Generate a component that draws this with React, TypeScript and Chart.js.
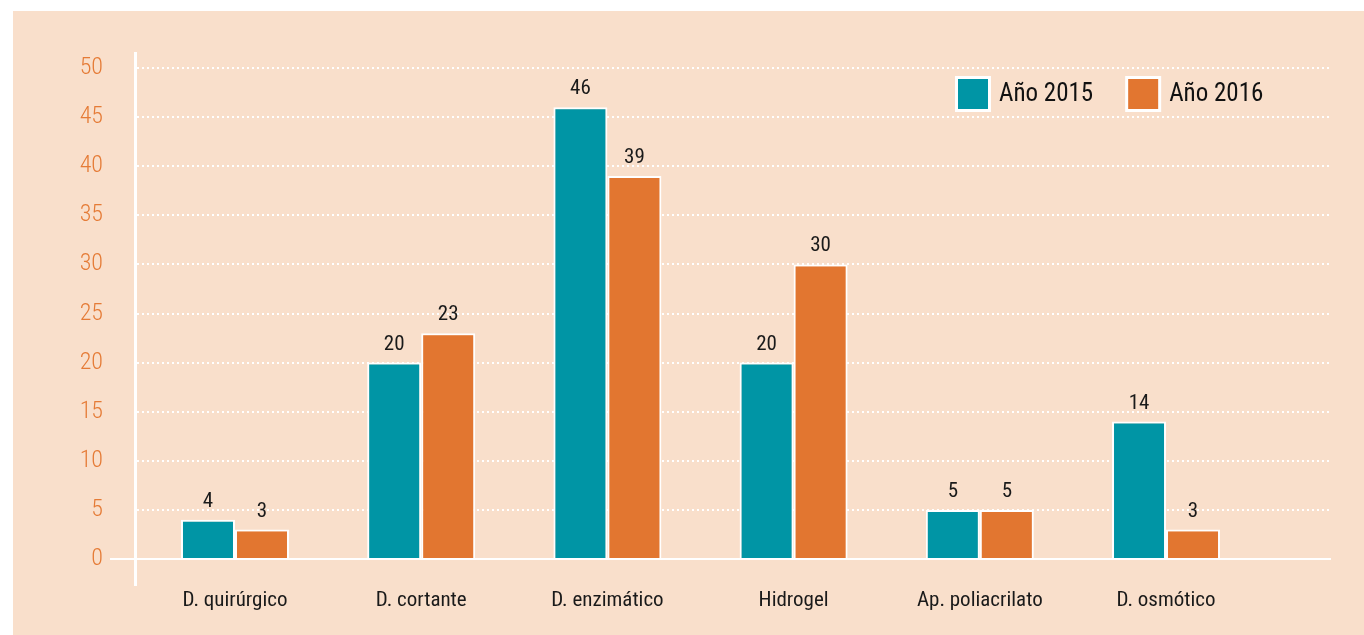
import React, { useEffect, useRef } from "react";
import { Chart, registerables } from "chart.js";

Chart.register(...registerables);

const categories = ["D. quirúrgico", "D. cortante", "D. enzimático", "Hidrogel", "Ap. poliacrilato", "D. osmótico"];
const seriesNames = ["Año 2015", "Año 2016"];
const values2015 = [4, 20, 46, 20, 5, 14];
const values2016 = [3, 23, 39, 30, 5, 3];
const yTicksStep = 5;

const TEAL = "#0095a5";
const ORANGE = "#e27630";
const BG = "#f9dfcb";
const FONT = "'Roboto Condensed', 'Roboto', sans-serif";

const backgroundPlugin = {
  id: "panelBg",
  beforeDraw(chart: any) {
    const { ctx, width, height } = chart;
    ctx.save();
    ctx.fillStyle = "#ffffff";
    ctx.fillRect(0, 0, width, height);
    ctx.fillStyle = BG;
    ctx.fillRect(13, 11, width - 13, height - 11);
    ctx.restore();
  },
};

const valueLabelPlugin = {
  id: "valueLabels",
  afterDatasetsDraw(chart: any) {
    const { ctx } = chart;
    ctx.save();
    ctx.fillStyle = "#1a1a1a";
    ctx.font = `21px ${FONT}`;
    ctx.textAlign = "center";
    ctx.textBaseline = "alphabetic";
    chart.data.datasets.forEach((ds: any, di: number) => {
      const meta = chart.getDatasetMeta(di);
      meta.data.forEach((el: any, i: number) => {
        const v = ds.data[i].y;
        ctx.fillText(String(v), el.x, el.y - 13);
      });
    });
    ctx.restore();
  },
};

const legendPlugin = {
  id: "customLegend",
  afterDraw(chart: any) {
    const { ctx, chartArea } = chart;
    ctx.save();
    ctx.font = `25px ${FONT}`;
    ctx.textBaseline = "middle";
    let x = chartArea.right - 376;
    const y = chartArea.top + 23;
    const box = 36;
    chart.data.datasets.forEach((ds: any) => {
      ctx.fillStyle = "#ffffff";
      ctx.fillRect(x, y, box, box);
      ctx.fillStyle = ds.backgroundColor;
      ctx.fillRect(x + 3, y + 3, box - 6, box - 6);
      ctx.fillStyle = "#111111";
      ctx.textAlign = "left";
      const tx = x + box + 8;
      ctx.fillText(ds.label, tx, y + box / 2 + 1);
      const w = ctx.measureText(ds.label).width;
      x = tx + w + 32;
    });
    ctx.restore();
  },
};

export default function App() {
  const ref = useRef<HTMLCanvasElement | null>(null);
  useEffect(() => {
    document.body.style.margin = "0";
    document.body.style.overflow = "hidden";
    const canvas = ref.current;
    if (!canvas) return;
    const chart = new Chart(canvas, {
      type: "bar",
      data: {
        datasets: [
          {
            label: seriesNames[0],
            data: values2015.map((v, i) => ({ x: i, y: v })),
            backgroundColor: TEAL,
            borderColor: "#ffffff",
            borderWidth: 2,
          },
          {
            label: seriesNames[1],
            data: values2016.map((v, i) => ({ x: i, y: v })),
            backgroundColor: ORANGE,
            borderColor: "#ffffff",
            borderWidth: 2,
          },
        ],
      },
      options: {
        responsive: false,
        animation: false,
        categoryPercentage: 0.58,
        barPercentage: 1,
        layout: { padding: { left: 0, top: 53, right: 33, bottom: 0 } },
        plugins: { legend: { display: false }, tooltip: { enabled: false } },
        scales: {
          x: {
            type: "linear",
            offset: false,
            min: -0.537,
            max: 5.886,
            grid: { display: false, offset: false, drawTicks: false },
            border: { display: false },
            afterFit(scale: any) {
              scale.height = 50;
            },
            ticks: {
              stepSize: 1,
              includeBounds: false,
              autoSkip: false,
              maxRotation: 0,
              padding: 3,
              color: "#1a1a1a",
              font: { family: FONT, size: 21 },
              callback: (value: any) => {
                const v = Number(value);
                return Number.isInteger(v) && categories[v] ? categories[v] : "";
              },
            },
          },
          y: {
            type: "linear",
            min: -2.65,
            max: 51.53,
            afterFit(scale: any) {
              scale.width = 135;
            },
            border: {
              display: true,
              color: "#ffffff",
              width: 3,
              dash: (ctx: any) => (ctx.tick && ctx.tick.value === 0 ? [] : [2, 3]),
            },
            grid: {
              color: "#ffffff",
              lineWidth: 2,
              drawTicks: true,
              tickLength: 25,
              tickWidth: 2,
              tickColor: (ctx: any) => (ctx.tick && ctx.tick.value === 0 ? "#ffffff" : "rgba(0,0,0,0)"),
            },
            ticks: {
              stepSize: yTicksStep,
              includeBounds: false,
              padding: 7,
              color: "#e57b36",
              font: { family: FONT, size: 24, weight: "300" },
            },
          },
        },
      },
      plugins: [backgroundPlugin, valueLabelPlugin, legendPlugin],
    } as any);
    return () => chart.destroy();
  }, []);
  return (
    <div style={{ position: "absolute", left: 0, top: 0, width: 1364, height: 635 }}>
      <canvas ref={ref} width={1364} height={635} />
    </div>
  );
}
